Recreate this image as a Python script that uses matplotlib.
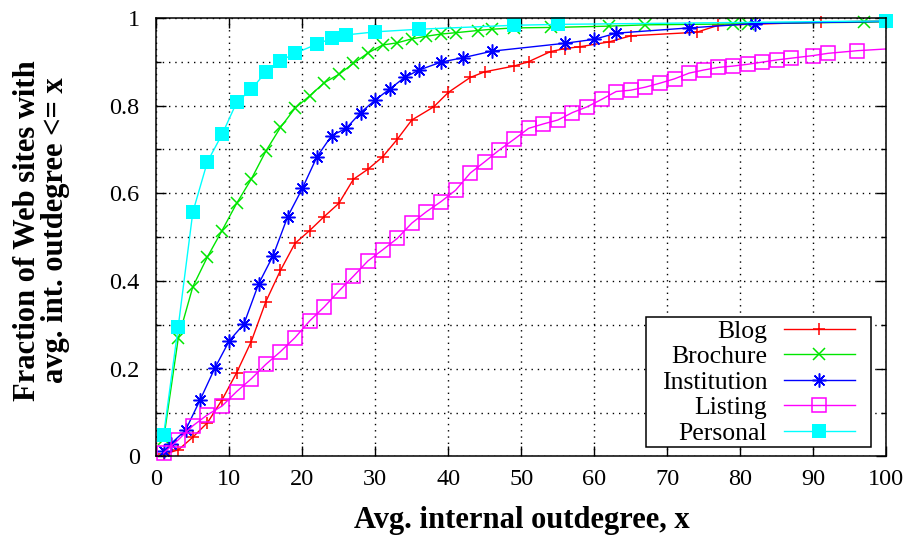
import numpy as np
import matplotlib
matplotlib.use("Agg")
import matplotlib.pyplot as plt
from matplotlib.lines import Line2D
from matplotlib.path import Path
from matplotlib.ticker import MultipleLocator

plt.rcParams['font.family'] = ['Liberation Serif', 'DejaVu Serif']

# ---- data ----
blog_x = [1, 3, 5, 7, 9, 11, 13, 15, 17, 19, 21, 23, 25, 27, 29, 31, 33, 35, 38, 40,
          43, 45, 49, 51, 54, 56, 58, 62, 65, 74, 77, 91, 105]
blog_y = [0.005, 0.015, 0.044, 0.077, 0.129, 0.191, 0.262, 0.353, 0.424, 0.486, 0.515,
          0.547, 0.577, 0.632, 0.655, 0.683, 0.723, 0.767, 0.797, 0.830, 0.864, 0.877,
          0.890, 0.900, 0.923, 0.930, 0.934, 0.945, 0.959, 0.967, 0.983, 0.990, 0.995]

broch_x = [1, 3, 5, 7, 9, 11, 13, 15, 17, 19, 21, 23, 25, 27, 29, 31, 33, 35, 37, 39,
           41, 44, 46, 49, 54, 62, 67, 79, 81, 97, 105]
broch_y = [0.040, 0.269, 0.387, 0.455, 0.515, 0.577, 0.632, 0.696, 0.750, 0.794, 0.822,
           0.852, 0.871, 0.896, 0.920, 0.938, 0.943, 0.952, 0.958, 0.963, 0.966, 0.971,
           0.974, 0.977, 0.978, 0.981, 0.984, 0.986, 0.987, 0.990, 0.993]

inst_x = [1, 2, 4, 6, 8, 10, 12, 14, 16, 18, 20, 22, 24, 26, 28, 30, 32, 34, 36, 39,
          42, 46, 56, 60, 63, 73, 82, 105]
inst_y = [0.012, 0.029, 0.060, 0.129, 0.201, 0.264, 0.302, 0.393, 0.458, 0.547, 0.611,
          0.683, 0.731, 0.748, 0.784, 0.813, 0.838, 0.864, 0.881, 0.899, 0.909, 0.924,
          0.942, 0.951, 0.965, 0.977, 0.987, 0.993]

list_x = [1, 3, 5, 7, 9, 11, 13, 15, 17, 19, 21, 23, 25, 27, 29, 31, 33, 35, 37, 39,
          41, 43, 45, 47, 49, 51, 53, 55, 57, 59, 61, 63, 65, 67, 69, 71, 73, 75, 77, 79,
          81, 83, 85, 87, 90, 92, 96, 105]
list_y = [0.008, 0.038, 0.070, 0.095, 0.115, 0.148, 0.177, 0.210, 0.239, 0.271, 0.309,
          0.341, 0.377, 0.411, 0.446, 0.471, 0.497, 0.532, 0.558, 0.581, 0.607, 0.646,
          0.672, 0.699, 0.723, 0.748, 0.758, 0.767, 0.784, 0.797, 0.814, 0.832, 0.835,
          0.842, 0.851, 0.861, 0.874, 0.881, 0.887, 0.890, 0.894, 0.899, 0.904, 0.908,
          0.914, 0.919, 0.925, 0.934]

pers_x = [1, 3, 5, 7, 9, 11, 13, 15, 17, 19, 22, 24, 26, 30, 36, 49, 55, 100]
pers_y = [0.049, 0.296, 0.557, 0.672, 0.734, 0.807, 0.837, 0.876, 0.902, 0.919, 0.940,
          0.953, 0.961, 0.968, 0.974, 0.983, 0.985, 0.993]

labels = ["Blog", "Brochure", "Institution", "Listing", "Personal"]
xticks = [0, 10, 20, 30, 40, 50, 60, 70, 80, 90, 100]
yticks = [0, 0.2, 0.4, 0.6, 0.8, 1.0]
ytick_labels = ["0", "0.2", "0.4", "0.6", "0.8", "1"]

# ---- styles ----
series = [
    (blog_x, blog_y, dict(color='#ff0000', marker='+', ms=8, mew=1.1, mfc='none')),
    (broch_x, broch_y, dict(color='#00e600', marker='x', ms=8.5, mew=1.1, mfc='none')),
    (inst_x, inst_y, dict(color='#0000ff', marker=(8, 2, 0), ms=10, mew=1.1, mfc='none')),
    (list_x, list_y, dict(color='#ff00ff', marker='s', ms=9.5, mew=1.1, mfc='none')),
    (pers_x, pers_y, dict(color='#00ffff', marker='s', ms=9.5, mew=0, mfc='#00ffff')),
]

fig = plt.figure(figsize=(9.11, 5.38), dpi=100)
ax = fig.add_axes([0.1716, 0.1515, 0.8013, 0.8154])

handles = []
for i, (xs, ys, st) in enumerate(series):
    xs = np.asarray(xs, float)
    ys = np.asarray(ys, float)
    ax.plot(xs, ys, color=st['color'], lw=1.0, zorder=3 + i)
    m = xs <= 100
    ax.plot(xs[m], ys[m], ls='none', marker=st['marker'], ms=st['ms'], mew=st['mew'],
            mec=st['color'], mfc=st['mfc'], clip_on=False, zorder=3 + i)
    handles.append(Line2D([], [], color=st['color'], lw=1.0, marker=st['marker'],
                          ms=st['ms'], mew=st['mew'], mec=st['color'], mfc=st['mfc']))

ax.set_xlim(0, 100)
ax.set_ylim(0, 1)
ax.set_xticks(xticks)
ax.set_xticklabels([str(t) for t in xticks])
ax.set_yticks(yticks)
ax.set_yticklabels(ytick_labels)
ax.yaxis.set_minor_locator(MultipleLocator(0.1))

ax.grid(True, which='major', axis='x', color='black', lw=1.0, ls=(0, (1, 3.5)))
ax.grid(True, which='both', axis='y', color='black', lw=1.0, ls=(0, (1, 3.5)))
ax.set_axisbelow(True)

ax.tick_params(which='both', direction='in', top=True, right=True, labelsize=17.5,
               width=1.0, color='black')
ax.tick_params(which='major', length=7)
ax.tick_params(which='minor', length=3.5)
ax.tick_params(axis='y', pad=12)
ax.tick_params(axis='x', pad=9)
for s in ax.spines.values():
    s.set_linewidth(1.1)
    s.set_zorder(10)

ax.set_xlabel("Avg. internal outdegree, x", fontsize=22, fontweight='bold')
ax.xaxis.set_label_coords(0.501, -0.147)
ax.xaxis.label.set_va('center')
ax.set_ylabel("Fraction of Web sites with\navg. int. outdegree <= x", fontsize=22,
              fontweight='bold', linespacing=0.95)
ax.yaxis.set_label_coords(-0.157, 0.516)
ax.yaxis.label.set_va('center')

# legend frame with extra horizontal padding (gnuplot-style key box)
PADX = 13.5  # pixels


def wide_box(x0, y0, width, height, mutation_size):
    xa, xb = x0 - PADX, x0 + width + PADX
    ya, yb = y0, y0 + height
    return Path([(xa, ya), (xb, ya), (xb, yb), (xa, yb), (xa, ya)],
                [Path.MOVETO, Path.LINETO, Path.LINETO, Path.LINETO, Path.CLOSEPOLY])


ax_l, ax_b, ax_w, ax_h = 156.3, 456.5, 730.0, 438.7
bx = (870.7 - PADX - ax_l) / ax_w
by = (ax_b - 447.3) / ax_h
leg = ax.legend(handles, labels, loc='lower right', bbox_to_anchor=(bx, by),
                borderaxespad=0, markerfirst=False, fontsize=18.5, handlelength=2.75,
                handletextpad=0.65, labelspacing=0.10, borderpad=0.1, fancybox=False,
                framealpha=1, edgecolor='black')
leg.get_frame().set_boxstyle(wide_box)
leg.get_frame().set_linewidth(1.1)
leg.set_zorder(20)

fig.savefig("out.png", dpi=100)
